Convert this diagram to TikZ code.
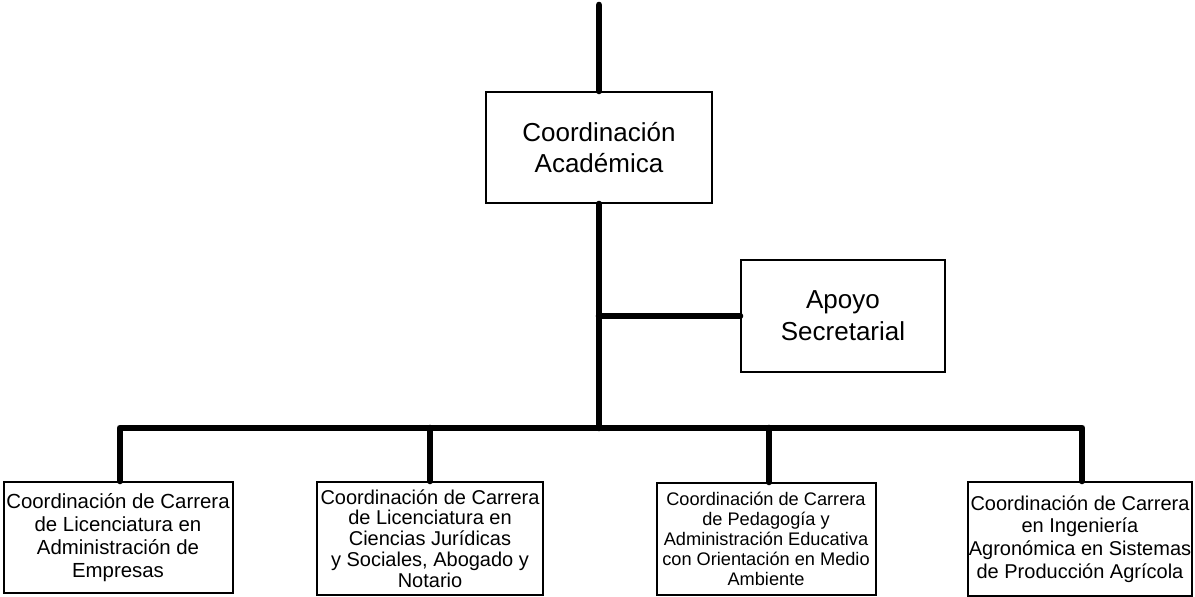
\documentclass[tikz,border=0pt]{standalone}
\usepackage{fontspec}
\setmainfont{Liberation Sans}
\usetikzlibrary{positioning}

\begin{document}
\begin{tikzpicture}[x=0.5pt, y=-0.5pt,
		caja/.style={draw, line width=1pt, align=center, inner sep=0pt},
		grande/.style={caja, font=\fontsize{13}{15.85}\selectfont},
		chica/.style={caja, font=\fontsize{10.2}{11.6}\selectfont},
		linea/.style={line width=3.3pt, line cap=round, line join=round}]
		\useasboundingbox (0,0) rectangle (1195,597);

		\node[grande, minimum width=113pt, minimum height=55.5pt] (acad) at (599,147.5) {Coordinación\\Académica};
		\node[grande, minimum width=102pt, minimum height=56pt] (apoyo) at (843,316) {Apoyo\\Secretarial};

		\node[chica, minimum width=114.5pt, minimum height=55.5pt] (lae) at (118,537.5) {Coordinación de Carrera\\de Licenciatura en\\Administración de\\Empresas};
		\node[chica, minimum width=113pt, minimum height=56.5pt, font=\fontsize{10}{10.4}\selectfont] (cjs) at (430,538.5) {Coordinación de Carrera\\de Licenciatura en\\Ciencias Jurídicas\\y Sociales, Abogado y\\Notario};
		\node[chica, minimum width=109.5pt, minimum height=56pt, font=\fontsize{9.1}{10}\selectfont] (pae) at (766,539) {Coordinación de Carrera\\de Pedagogía y\\Administración Educativa\\con Orientación en Medio\\Ambiente};
		\node[chica, minimum width=112pt, minimum height=57pt, font=\fontsize{10}{11.3}\selectfont] (ing) at (1080,539) {Coordinación de Carrera\\en Ingeniería\\Agronómica en Sistemas\\de Producción Agrícola};

		\coordinate (arriba) at (599,5);
		\coordinate (bus) at (599,428);
		\coordinate (rama) at (599,316);

		\draw[linea] (arriba) -- (acad.north);
		\draw[linea] (acad.south) -- (bus);
		\draw[linea] (rama) -- (apoyo.west);
		\draw[linea] ([xshift=1pt]lae.north) |- (bus) -| ([xshift=1pt]ing.north);
		\draw[linea] (cjs.north) -- (cjs.north |- bus);
		\draw[linea] ([xshift=1.5pt]pae.north) -- ([xshift=1.5pt]pae.north |- bus);
	\end{tikzpicture}
\end{document}
